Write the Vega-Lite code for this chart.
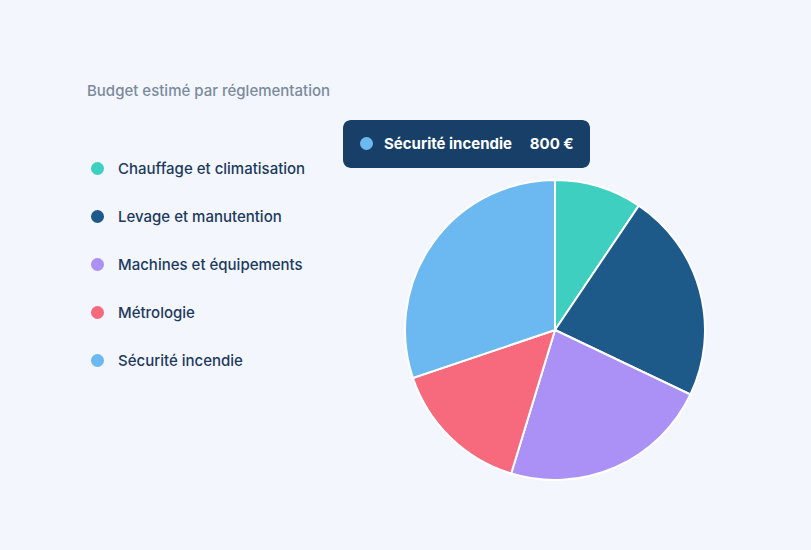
{
  "$schema": "https://vega.github.io/schema/vega-lite/v6.json",
  "autosize": {"type": "none"},
  "width": 300,
  "height": 300,
  "padding": {"left": 405, "top": 180, "right": 106, "bottom": 70},
  "background": "#f3f6fd",
  "config": {
    "font": "Inter",
    "view": {"stroke": null}
  },
  "title": {
    "text": "Budget estimé par réglementation",
    "anchor": "start",
    "frame": "group",
    "fontSize": 15,
    "fontWeight": 500,
    "color": "#7b8a9c",
    "offset": 0,
    "baseline": "alphabetic",
    "dx": -318,
    "dy": -9
  },
  "data": {
    "values": [
      {"categorie": "Chauffage et climatisation", "budget": 250, "ordre": 1},
      {"categorie": "Levage et manutention", "budget": 600, "ordre": 2},
      {"categorie": "Machines et équipements", "budget": 600, "ordre": 3},
      {"categorie": "Métrologie", "budget": 400, "ordre": 4},
      {"categorie": "Sécurité incendie", "budget": 800, "ordre": 5}
    ]
  },
  "layer": [
    {
      "mark": {"type": "arc", "outerRadius": 150, "stroke": "white", "strokeWidth": 2},
      "encoding": {
        "theta": {"field": "budget", "type": "quantitative", "stack": true},
        "order": {"field": "ordre", "type": "quantitative"},
        "color": {
          "field": "categorie",
          "type": "nominal",
          "sort": null,
          "scale": {"range": ["#3ecfc1", "#1d5a8a", "#ab90f5", "#f76a7e", "#6cb8f0"]},
          "legend": {
            "title": null,
            "orient": "none",
            "legendX": -315,
            "legendY": -19,
            "symbolType": "circle",
            "symbolSize": 170,
            "symbolStrokeWidth": 0,
            "labelFontSize": 15,
            "labelFont": "Inter",
            "labelFontWeight": 500,
            "labelColor": "#1c3a5e",
            "labelOffset": 13,
            "rowPadding": 32,
            "labelLimit": 300
          }
        }
      }
    },
    {
      "transform": [{"filter": "datum.categorie === 'Sécurité incendie'"}],
      "mark": {"type": "point", "filled": true, "opacity": 0},
      "encoding": {
        "fill": {
          "field": "categorie",
          "type": "nominal",
          "scale": {"range": ["#6cb8f0"]},
          "legend": {
            "title": null,
            "orient": "none",
            "legendX": -62,
            "legendY": -60,
            "fillColor": "#183f68",
            "cornerRadius": 8,
            "padding": 16,
            "symbolType": "circle",
            "symbolSize": 170,
            "symbolOpacity": 1,
            "symbolStrokeWidth": 0,
            "labelFontSize": 15,
            "labelFont": "Inter",
            "labelFontWeight": 700,
            "labelColor": "white",
            "labelOffset": 10,
            "labelLimit": 400,
            "labelExpr": "datum.label + '\u00a0\u00a0\u00a0\u00a0\u00a0800 €\u2007'"
          }
        }
      }
    }
  ],
  "resolve": {"scale": {"fill": "independent"}}
}
